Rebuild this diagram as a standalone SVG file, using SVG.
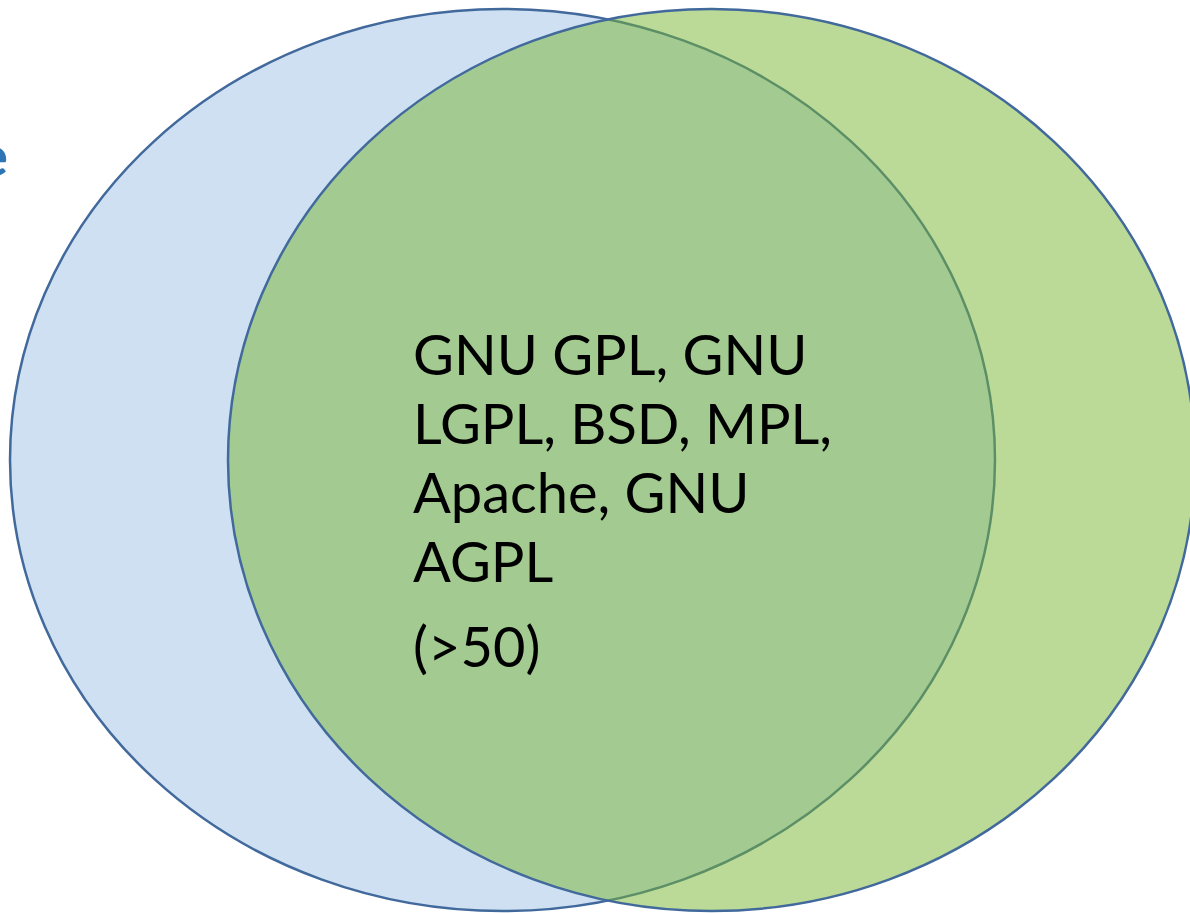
<svg xmlns="http://www.w3.org/2000/svg" width="1190" height="913" viewBox="0 0 1190 913">
<style>
.lbl{font-family:"Lato","Liberation Sans",sans-serif;font-size:56px;fill:#000}
.cut{font-family:"Lato","Liberation Sans",sans-serif;font-size:56px;font-weight:bold;fill:#2E75B6}
</style>
<rect width="1190" height="913" fill="#fff"/>
<text class="cut" x="8" y="176" text-anchor="end">e</text>
<g id="set-a">
<ellipse cx="502.5" cy="460" rx="492.5" ry="451" fill="#CEE0F2" stroke="#42699C" stroke-width="2.5"/>
</g>
<g id="set-b">
<ellipse cx="711.5" cy="460" rx="483.5" ry="451" fill="#77B52F" fill-opacity="0.5" stroke="none"/>
<ellipse cx="711.5" cy="460" rx="483.5" ry="451" fill="none" stroke="#42699C" stroke-width="2.5"/>
</g>
<g id="intersection">
<text class="lbl" x="413" y="375">GNU GPL, GNU</text>
<text class="lbl" x="413" y="444">LGPL, BSD, MPL,</text>
<text class="lbl" x="413" y="513">Apache, GNU</text>
<text class="lbl" x="413" y="582">AGPL</text>
<text class="lbl" x="413" y="667">(&gt;50)</text>
</g>
</svg>
